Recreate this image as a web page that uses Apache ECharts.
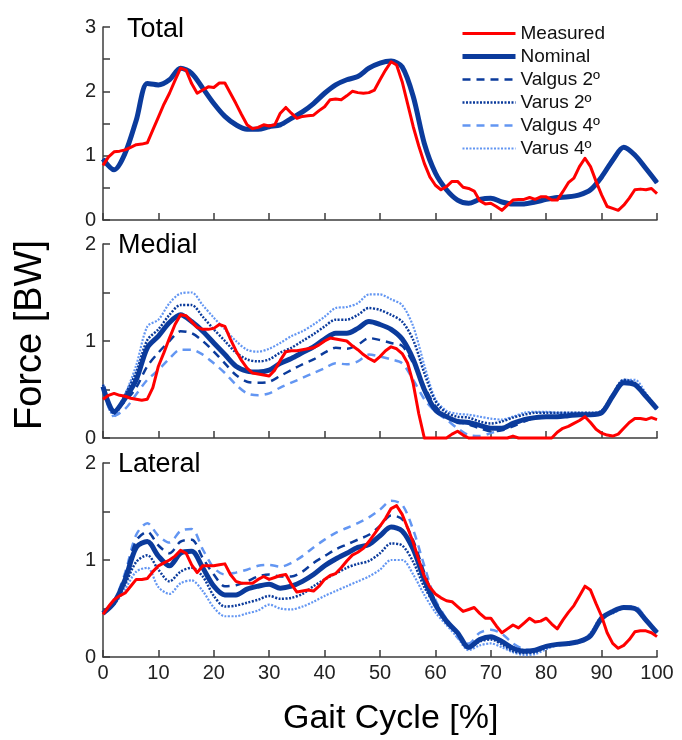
<!DOCTYPE html>
<html>
<head>
<meta charset="utf-8">
<script src="https://cdn.jsdelivr.net/npm/echarts@6/dist/echarts.min.js"></script>
<style>
  html, body { margin: 0; padding: 0; background: #fff; }
  #chart { width: 682px; height: 740px; }
</style>
</head>
<body>
<div id="chart"></div>
<script>
// gait cycle samples (model curves every 2 %, measured every 1 %)
const gait2 = [0,2,4,6,8,10,12,14,16,18,20,22,24,26,28,30,32,34,36,38,40,42,44,46,48,50,
  52,54,56,58,60,62,64,66,68,70,72,74,76,78,80,82,84,86,88,90,92,94,96,98,100]
const gait1 = [0,1,2,3,4,5,6,7,8,9,10,11,12,13,14,15,16,17,18,19,20,21,22,23,24,25,26,27,28,29,
  30,31,32,33,34,35,36,37,38,39,40,41,42,43,44,45,46,47,48,49,50,51,52,53,54,55,56,57,58,59,
  60,61,62,63,64,65,66,67,68,69,70,71,72,73,74,75,76,77,78,79,80,81,82,83,84,85,86,87,88,89,
  90,91,92,93,94,95,96,97,98,99,100]

// ---- Total ----
const totalMeasured = [0.85,0.98,1.06,1.07,1.09,1.13,1.17,1.18,1.2,1.4,1.6,1.8,1.97,2.17,2.36,2.33,2.12,1.97,2.02,2.07,
  2.06,2.13,2.13,1.97,1.81,1.64,1.48,1.42,1.44,1.48,1.46,1.48,1.66,1.75,1.66,1.58,1.61,1.62,1.63,1.7,
  1.76,1.87,1.88,1.87,1.93,2.0,1.98,1.97,1.98,2.02,2.18,2.33,2.46,2.41,2.15,1.8,1.45,1.15,0.88,0.67,
  0.54,0.47,0.52,0.6,0.6,0.51,0.49,0.45,0.3,0.25,0.26,0.21,0.15,0.23,0.31,0.32,0.32,0.35,0.32,0.36,
  0.36,0.31,0.31,0.44,0.58,0.65,0.83,0.96,0.83,0.6,0.39,0.21,0.18,0.15,0.23,0.34,0.47,0.48,0.47,0.49,0.41]
const totalNominal = [0.95,0.78,1.04,1.55,2.12,2.1,2.18,2.36,2.28,2.05,1.81,1.61,1.48,1.41,1.41,1.45,1.48,1.58,1.68,1.81,
  1.97,2.1,2.18,2.23,2.36,2.44,2.47,2.38,1.92,1.19,0.73,0.47,0.31,0.26,0.32,0.34,0.28,0.25,0.25,0.28,
  0.32,0.35,0.36,0.39,0.47,0.67,0.93,1.13,1.01,0.8,0.58]
// in the Total panel the alignment variants lie on top of the nominal curve
const totalValgus2 = totalNominal
const totalVarus2 = totalNominal
const totalValgus4 = totalNominal
const totalVarus4 = totalNominal

// ---- Medial ----
const medialMeasured = [0.4,0.44,0.46,0.44,0.43,0.41,0.4,0.39,0.4,0.52,0.74,0.88,1.03,1.17,1.27,1.26,1.2,1.14,1.12,1.12,
  1.13,1.17,1.15,1.02,0.9,0.8,0.72,0.67,0.66,0.65,0.64,0.7,0.8,0.89,0.9,0.9,0.91,0.92,0.93,0.96,
  1.0,1.03,1.02,1.01,1.0,0.95,0.91,0.86,0.82,0.79,0.84,0.9,0.94,0.92,0.87,0.77,0.56,0.25,0,0,
  0,0,0,0.04,0.07,0.03,0,0,0,0,0,0,0,0,0.02,0,0,0,0,0,
  0,0,0.06,0.1,0.12,0.15,0.18,0.22,0.16,0.09,0.05,0.03,0.02,0.04,0.1,0.16,0.2,0.2,0.19,0.21,0.19]
const medialNominal = [0.53,0.27,0.41,0.6,0.93,1.05,1.19,1.27,1.2,1.1,0.98,0.86,0.74,0.69,0.68,0.7,0.77,0.82,0.88,0.94,
  1.02,1.08,1.08,1.13,1.2,1.17,1.12,1.02,0.81,0.5,0.29,0.22,0.17,0.16,0.13,0.1,0.1,0.15,0.19,0.21,
  0.22,0.22,0.23,0.24,0.24,0.26,0.43,0.57,0.55,0.43,0.3]
const medialValgus2 = [0.5,0.29,0.38,0.52,0.74,0.88,1.0,1.1,1.08,1.0,0.89,0.77,0.65,0.58,0.57,0.58,0.64,0.7,0.76,0.81,
  0.88,0.93,0.92,0.96,1.03,1.01,0.98,0.95,0.77,0.53,0.33,0.22,0.17,0.14,0.1,0.07,0.08,0.12,0.17,0.21,
  0.22,0.22,0.23,0.24,0.24,0.26,0.42,0.57,0.56,0.43,0.3]
const medialVarus2 = [0.55,0.25,0.45,0.68,1.01,1.12,1.27,1.37,1.37,1.25,1.12,1.0,0.88,0.81,0.79,0.81,0.88,0.93,1.0,1.07,
  1.15,1.22,1.22,1.27,1.34,1.32,1.27,1.2,1.01,0.67,0.38,0.26,0.22,0.21,0.17,0.15,0.17,0.21,0.24,0.26,
  0.26,0.26,0.26,0.26,0.26,0.28,0.45,0.6,0.57,0.45,0.3]
const medialValgus4 = [0.5,0.23,0.3,0.45,0.6,0.7,0.82,0.91,0.91,0.86,0.77,0.67,0.55,0.46,0.44,0.46,0.52,0.57,0.62,0.67,
  0.72,0.77,0.76,0.79,0.86,0.84,0.81,0.77,0.6,0.4,0.27,0.19,0.1,0.03,0.02,0.05,0.09,0.14,0.19,0.21,
  0.22,0.22,0.23,0.24,0.24,0.26,0.42,0.58,0.56,0.44,0.3]
const medialVarus4 = [0.55,0.22,0.45,0.75,1.15,1.22,1.39,1.49,1.5,1.37,1.24,1.12,1.0,0.91,0.89,0.92,0.98,1.05,1.1,1.17,
  1.25,1.34,1.35,1.39,1.48,1.48,1.43,1.37,1.15,0.75,0.4,0.28,0.25,0.24,0.22,0.2,0.19,0.22,0.26,0.27,
  0.27,0.26,0.26,0.26,0.26,0.28,0.43,0.6,0.6,0.46,0.3]

// ---- Lateral ----
const lateralMeasured = [0.44,0.52,0.59,0.63,0.66,0.73,0.8,0.8,0.81,0.88,0.94,0.97,1.0,1.04,1.1,1.07,0.95,0.87,0.94,0.94,
  0.94,0.95,0.96,0.85,0.78,0.76,0.76,0.76,0.8,0.83,0.8,0.82,0.84,0.85,0.75,0.67,0.68,0.69,0.68,0.73,
  0.8,0.84,0.86,0.92,0.99,1.05,1.08,1.12,1.19,1.27,1.35,1.43,1.53,1.56,1.47,1.33,1.18,1.0,0.83,0.72,
  0.65,0.61,0.58,0.57,0.52,0.47,0.49,0.51,0.45,0.4,0.4,0.32,0.25,0.29,0.33,0.3,0.35,0.4,0.36,0.37,
  0.4,0.34,0.29,0.38,0.46,0.53,0.63,0.73,0.69,0.55,0.42,0.25,0.14,0.09,0.12,0.18,0.26,0.27,0.27,0.25,0.21]
const lateralNominal = [0.45,0.56,0.8,1.13,1.19,1.04,0.94,1.07,1.09,0.92,0.73,0.64,0.64,0.7,0.73,0.75,0.71,0.73,0.78,0.85,
  0.94,1.01,1.07,1.13,1.16,1.25,1.34,1.3,1.11,0.8,0.54,0.37,0.25,0.1,0.18,0.21,0.16,0.09,0.06,0.07,
  0.11,0.13,0.14,0.16,0.22,0.4,0.47,0.51,0.5,0.38,0.25]
const lateralValgus2 = [0.45,0.57,0.84,1.2,1.29,1.15,1.07,1.19,1.21,1.02,0.85,0.73,0.74,0.78,0.83,0.85,0.83,0.83,0.88,0.97,
  1.04,1.11,1.16,1.21,1.26,1.35,1.46,1.42,1.2,0.87,0.57,0.38,0.25,0.11,0.18,0.21,0.17,0.1,0.07,0.07,
  0.11,0.13,0.14,0.16,0.22,0.4,0.47,0.51,0.5,0.38,0.25]
const lateralVarus2 = [0.45,0.55,0.75,0.98,1.05,0.9,0.78,0.88,0.92,0.83,0.63,0.52,0.53,0.56,0.59,0.63,0.6,0.61,0.65,0.73,
  0.8,0.86,0.92,0.96,0.99,1.07,1.17,1.15,0.98,0.72,0.53,0.36,0.24,0.09,0.16,0.18,0.13,0.06,0.04,0.05,
  0.1,0.13,0.14,0.16,0.22,0.4,0.46,0.5,0.5,0.38,0.25]
const lateralValgus4 = [0.45,0.58,0.87,1.26,1.38,1.25,1.18,1.3,1.32,1.11,0.92,0.85,0.87,0.9,0.94,0.95,0.93,0.97,1.04,1.13,
  1.21,1.28,1.33,1.38,1.44,1.52,1.61,1.57,1.31,0.94,0.59,0.39,0.2,0.14,0.25,0.28,0.24,0.14,0.08,0.07,
  0.1,0.13,0.14,0.16,0.22,0.38,0.46,0.52,0.52,0.4,0.26]
const lateralVarus4 = [0.45,0.54,0.7,0.88,0.92,0.72,0.65,0.76,0.79,0.68,0.51,0.42,0.42,0.45,0.48,0.54,0.5,0.49,0.52,0.57,
  0.63,0.68,0.73,0.78,0.83,0.9,1.0,1.0,0.85,0.64,0.46,0.33,0.2,0.07,0.12,0.14,0.1,0.05,0.02,0.03,
  0.08,0.12,0.13,0.15,0.25,0.42,0.45,0.5,0.49,0.38,0.25]

const panelTitles = ['Total', 'Medial', 'Lateral']
const panelMax = [3, 2, 2]
const seriesNames = ['Measured', 'Nominal', 'Valgus 2º', 'Varus 2º', 'Valgus 4º', 'Varus 4º']

const RED = '#ff0000'
const DARK = '#0b3b9c'
const LIGHT = '#6396f2'
const FONT = 'Liberation Sans, Arial, Helvetica, sans-serif'

// grid boxes
const grids = [
  {left: 103, width: 554, top: 27, height: 193},
  {left: 103, width: 554, top: 244, height: 194},
  {left: 103, width: 554, top: 463, height: 194}
]

const panelData = [
  [totalMeasured, totalNominal, totalValgus2, totalVarus2, totalValgus4, totalVarus4],
  [medialMeasured, medialNominal, medialValgus2, medialVarus2, medialValgus4, medialVarus4],
  [lateralMeasured, lateralNominal, lateralValgus2, lateralVarus2, lateralValgus4, lateralVarus4]
]

function pairs(xs, ys){
  return ys.map((y, i) => [xs[i], y])
}

// style per series name (drawn back to front)
const styles = {
  'Varus 4º':  {color: LIGHT, width: 2.2, type: [2, 1.5], z: 2},
  'Valgus 4º': {color: LIGHT, width: 2.5, type: [8, 6], z: 3},
  'Varus 2º':  {color: DARK, width: 2.5, type: [2, 1.5], z: 4},
  'Valgus 2º': {color: DARK, width: 2.5, type: [8, 6], z: 5},
  'Nominal':   {color: DARK, width: 5, type: 'solid', z: 6},
  'Measured':  {color: RED, width: 3, type: 'solid', z: 7}
}

const chart = echarts.init(document.getElementById('chart'))

const series = []
panelData.forEach((arrs, p) => {
  seriesNames.forEach((name, k) => {
    const st = styles[name]
    const measured = name === 'Measured'
    series.push({
      name: name,
      type: 'line',
      xAxisIndex: p,
      yAxisIndex: p,
      data: pairs(measured ? gait1 : gait2, arrs[k]),
      symbol: 'none',
      smooth: measured ? false : 0.3,
      clip: false,
      z: st.z,
      color: st.color,
      lineStyle: {color: st.color, width: st.width, type: st.type, cap: 'butt', join: 'round'},
      emphasis: {disabled: true},
      animation: false
    })
  })
})

const axisLineStyle = {color: '#3c3c3c', width: 1.5}

const option = {
  animation: false,
  textStyle: {fontFamily: FONT},
  grid: grids,
  title: panelTitles.map((t, i) => ({
    text: t,
    left: i === 0 ? 122 : 113,
    top: [11, 227, 446][i],
    textStyle: {fontSize: 27, fontWeight: 'normal', color: '#000', fontFamily: FONT}
  })),
  xAxis: grids.map((g, i) => ({
    type: 'value',
    gridIndex: i,
    min: 0, max: 100, interval: 10,
    axisLine: {show: true, lineStyle: axisLineStyle},
    axisTick: {show: true, inside: true, length: 7, lineStyle: axisLineStyle},
    splitLine: {show: false},
    axisLabel: {show: i === 2, fontSize: 20, color: '#222', margin: 6, fontFamily: FONT}
  })),
  yAxis: grids.map((g, i) => ({
    type: 'value',
    gridIndex: i,
    min: 0, max: panelMax[i], interval: 0.5,
    axisLine: {show: true, lineStyle: axisLineStyle},
    axisTick: {show: true, inside: true, length: 7, lineStyle: axisLineStyle},
    splitLine: {show: false},
    axisLabel: {
      fontSize: 20, color: '#222', margin: 7, fontFamily: FONT,
      formatter: v => Number.isInteger(v) ? String(v) : ''
    }
  })),
  legend: {
    data: seriesNames,
    orient: 'vertical',
    left: 455,
    top: 19,
    itemWidth: 53,
    itemHeight: 14,
    itemGap: 4,
    itemStyle: {opacity: 0},
    lineStyle: {width: 'inherit', type: 'inherit'},
    textStyle: {fontSize: 19, color: '#111', fontFamily: FONT},
    selectedMode: false
  },
  graphic: [
    {
      type: 'text',
      left: 12,
      top: 240,
      rotation: Math.PI / 2,
      style: {text: 'Force [BW]', fontSize: 38, fill: '#000', font: '38px ' + FONT}
    },
    {
      type: 'text',
      left: 283,
      top: 702,
      style: {text: 'Gait Cycle [%]', fontSize: 34, fill: '#000', font: '34px ' + FONT}
    }
  ],
  series: series
}

chart.setOption(option)
</script>
</body>
</html>
